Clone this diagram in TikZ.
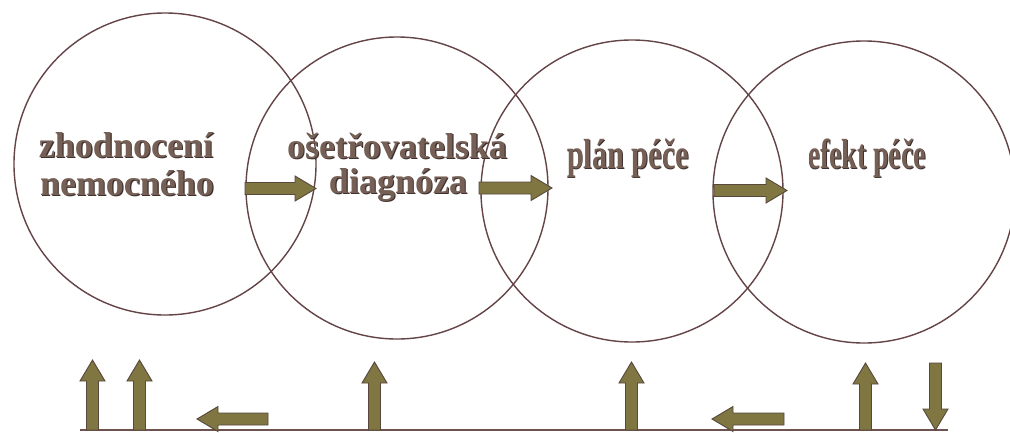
\documentclass[tikz,border=0pt]{standalone}
\usepackage{fontspec}
\setmainfont{Liberation Serif}[BoldFont={Liberation Serif Bold}]
\newfontfamily\lblfont{Liberation Serif Bold}
\definecolor{ringcol}{RGB}{100,68,70}
\definecolor{txtcol}{RGB}{118,96,86}
\definecolor{shadcol}{RGB}{62,48,46}
\definecolor{arrfill}{RGB}{128,118,66}
\definecolor{arredge}{RGB}{88,72,60}
\definecolor{basecol}{RGB}{110,82,80}
\tikzset{
  ring/.style={draw=ringcol,line width=1.4pt,circle,inner sep=0pt,minimum size=302pt},
  lbl/.style={align=center,font=\lblfont\fontsize{36}{36}\selectfont,inner sep=0pt},
  blk/.style={fill=arrfill,draw=arredge,line width=0.9pt,line join=miter},
  pics/barrow/.style={code={
    \draw[blk] (0,-6) -- (#1-21,-6) -- (#1-21,-12.5) -- (#1,0) -- (#1-21,12.5) -- (#1-21,6) -- (0,6) -- cycle;}}
}
\newcommand{\shadowtext}[1]{\makebox[0pt][l]{\raisebox{-1.2pt}{\hspace{1.2pt}\textcolor{shadcol}{#1}}}\textcolor{txtcol}{#1}}
\begin{document}
\begin{tikzpicture}[x=1pt,y=-1pt]
\useasboundingbox (0,0) rectangle (1010,432);
\fill[white] (0,0) rectangle (1010,432);
% circles
\node[ring] (c1) at (165,164) {};
\node[ring] (c2) at (397,188) {};
\node[ring] (c3) at (632,191) {};
\node[ring] (c4) at (864,192) {};
% labels
\node[lbl,anchor=base] (t1a) at (126,157) {\shadowtext{zhodnocení}};
\node[lbl,anchor=base] (t1b) at (127,195) {\shadowtext{nemocného}};
\node[lbl,anchor=base] (t2a) at (397,158) {\shadowtext{ošetřovatelská}};
\node[lbl,anchor=base] (t2b) at (398,193) {\shadowtext{diagnóza}};
\node[lbl,anchor=base,font=\lblfont\fontsize{42}{42}\selectfont] (t3) at (628,168) {\scalebox{0.72}[1]{\shadowtext{plán péče}}};
\node[lbl,anchor=base,font=\lblfont\fontsize{42}{42}\selectfont] (t4) at (867,168) {\scalebox{0.66}[1]{\shadowtext{efekt péče}}};
% horizontal arrows between circles
\pic at (245,188.5) {barrow=71};
\pic at (479,188) {barrow=73};
\pic at (714,190.5) {barrow=73};
% base line
\coordinate (b0) at (80,430);
\coordinate (b1) at (948,430);
\draw[basecol,line width=1.4pt] (b0) -- (b1);
% bottom arrows
\pic[rotate=90] at (92.5,430) {barrow=70};
\pic[rotate=90] at (139.5,430) {barrow=70};
\pic[rotate=180] at (268,419) {barrow=71};
\pic[rotate=90] at (374.5,430) {barrow=68};
\pic[rotate=90] at (631.5,430) {barrow=68};
\pic[rotate=180] at (784,419) {barrow=72};
\pic[rotate=90] at (865.5,430) {barrow=67};
\pic[rotate=-90] at (935.5,363) {barrow=67};
\end{tikzpicture}
\end{document}
